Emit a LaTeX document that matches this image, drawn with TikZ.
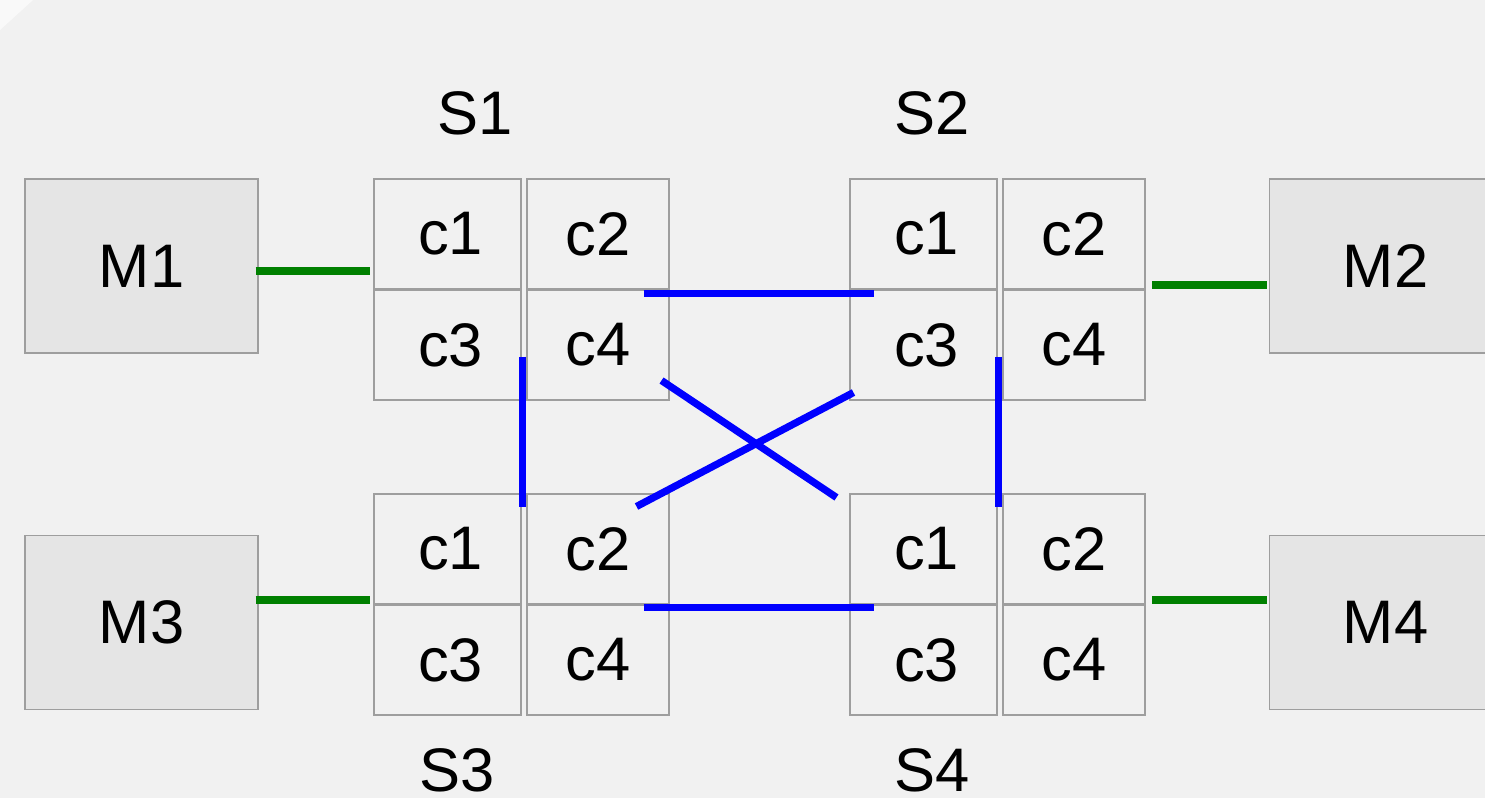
\documentclass[tikz,border=0pt]{standalone}
\usepackage{fontspec}
\setmainfont{Liberation Sans}
\definecolor{bggray}{HTML}{F1F1F1}
\definecolor{boxgray}{HTML}{E5E5E5}
\definecolor{edgegray}{HTML}{9E9E9E}
\definecolor{linkgreen}{HTML}{008000}
\definecolor{linkblue}{HTML}{0000FF}
\begin{document}
\begin{tikzpicture}[x=0.02cm,y=-0.02cm,
  machine/.style={draw=edgegray, line width=0.6pt, fill=boxgray, minimum width=4.66cm, minimum height=3.48cm, inner sep=0pt, font=\fontsize{35}{42}\selectfont},
  cell/.style={draw=edgegray, line width=0.6pt, fill=bggray, minimum height=2.2cm, inner sep=0pt, font=\fontsize{35}{42}\selectfont},
  leftcell/.style={cell, minimum width=2.94cm},
  rightcell/.style={cell, minimum width=2.84cm},
  switchname/.style={anchor=base, inner sep=0pt, font=\fontsize{35}{42}\selectfont},
  greenlink/.style={draw=linkgreen, line width=0.15cm},
  bluelink/.style={draw=linkblue, line width=0.145cm}]
% background
\fill[bggray] (0,0) rectangle (1485,798);
\fill[white, opacity=0.6] (0,0) -- (33,0) -- (0,30) -- cycle;
\useasboundingbox (0,0) rectangle (1485,798);

% machines
\node[machine] (m1) at (141.5,266) {M1};
\node[machine] (m2) at (1385.5,266) {M2};
\node[machine] (m3) at (141.5,622.5) {M3};
\node[machine] (m4) at (1385.5,622.5) {M4};

% switches, four cells each
\foreach \sw/\lx/\ty in {s1/447.5/234, s2/923.5/234, s3/447.5/549, s4/923.5/549} {
  \node[leftcell] (\sw c1) at (\lx,\ty) {\hspace{0.12cm}c1};
  \node[rightcell] (\sw c2) at (\lx+150.5,\ty) {c2};
  \node[leftcell] (\sw c3) at (\lx,\ty+111) {\hspace{0.12cm}c3};
  \node[rightcell] (\sw c4) at (\lx+150.5,\ty+111) {c4};
}
\node[switchname] (s1name) at (475,134) {S1};
\node[switchname] (s2name) at (932,134) {S2};
\node[switchname] (s3name) at (457,791) {S3};
\node[switchname] (s4name) at (932,791) {S4};

% machine links
\draw[greenlink, shorten <=-0.06cm, shorten >=0.06cm] ([yshift=-0.1cm]m1.east) -- ([yshift=-0.1cm]m1.east -| s1c1.west);
\draw[greenlink, shorten >=0.12cm, shorten <=0.04cm] ([yshift=-0.38cm]m2.west) -- ([yshift=-0.38cm]m2.west -| s2c2.east);
\draw[greenlink, shorten <=-0.06cm, shorten >=0.06cm] ([yshift=0.45cm]m3.east) -- ([yshift=0.45cm]m3.east -| s3c1.west);
\draw[greenlink, shorten >=0.12cm, shorten <=0.04cm] ([yshift=0.45cm]m4.west) -- ([yshift=0.45cm]m4.west -| s4c2.east);

% switch links
\draw[bluelink] ([shift={(-0.52cm,-0.08cm)}]s1c4.north east) -- ([shift={(0.5cm,-0.08cm)}]s2c3.north west);
\draw[bluelink] ([shift={(-0.52cm,-0.06cm)}]s3c4.north east) -- ([shift={(0.5cm,-0.06cm)}]s4c3.north west);
\draw[bluelink] ([shift={(0.02cm,0.88cm)}]s1c3.south east) -- ([shift={(0.02cm,-0.28cm)}]s3c1.north east);
\draw[bluelink] ([shift={(0.02cm,0.88cm)}]s2c3.south east) -- ([shift={(0.02cm,-0.28cm)}]s4c1.north east);
\draw[bluelink] ([shift={(-0.16cm,0.4cm)}]s1c4.south east) -- ([shift={(-0.26cm,-0.08cm)}]s4c1.north west);
\draw[bluelink] ([shift={(0.08cm,0.16cm)}]s2c3.south west) -- ([shift={(-0.66cm,-0.26cm)}]s3c2.north east);
\end{tikzpicture}
\end{document}
